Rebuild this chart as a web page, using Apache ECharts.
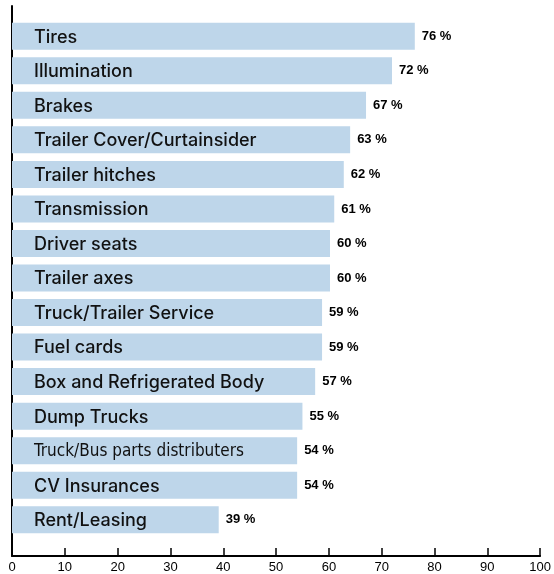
<!DOCTYPE html>
<html>
<head>
<meta charset="utf-8">
<script src="https://cdn.jsdelivr.net/npm/echarts@6/dist/echarts.min.js"></script>
<style>
  html, body { margin: 0; padding: 0; background: #fff; }
  #chart { width: 554px; height: 574px; }
</style>
</head>
<body>
<div id="chart"></div>
<script>
// categories, top to bottom
const categories = [
    'Tires', 'Illumination', 'Brakes', 'Trailer Cover/Curtainsider', 'Trailer hitches',
    'Transmission', 'Driver seats', 'Trailer axes', 'Truck/Trailer Service', 'Fuel cards',
    'Box and Refrigerated Body', 'Dump Trucks', 'Truck/Bus parts distributers', 'CV Insurances', 'Rent/Leasing'
];
// bar lengths as drawn
const barLengths = [76.0, 71.7, 66.8, 63.8, 62.6, 60.8, 60.0, 60.0, 58.5, 58.5, 57.2, 54.8, 53.8, 53.8, 39.0];
// printed percentages
const shareLabels = [76, 72, 67, 63, 62, 61, 60, 60, 59, 59, 57, 55, 54, 54, 39];
const xTicks = [0, 10, 20, 30, 40, 50, 60, 70, 80, 90, 100];

const BAR_COLOR = '#bed6ea';
const FONT = 'Liberation Sans, Arial, sans-serif';
const LABEL_FONT = 'Inter, Roboto, sans-serif';

const chart = echarts.init(document.getElementById('chart'));

const option = {
    animation: false,
    grid: [
        // bars
        { left: 12, right: 12, top: 19, bottom: 37 },
        // axes frame
        { left: 12, right: 12, top: 6, bottom: 18 }
    ],
    xAxis: [
        { gridIndex: 0, type: 'value', min: 0, max: 100, show: false },
        {
            gridIndex: 1, type: 'value', min: xTicks[0], max: xTicks[xTicks.length - 1], interval: 10,
            axisLine: { show: true, lineStyle: { color: '#000', width: 2 } },
            axisTick: { show: true, inside: true, length: 8, lineStyle: { color: '#000', width: 1.5 } },
            axisLabel: { color: '#000', fontSize: 13, fontFamily: FONT, margin: 5 },
            splitLine: { show: false }
        }
    ],
    yAxis: [
        {
            gridIndex: 0, type: 'category', data: categories, inverse: true,
            show: false
        },
        {
            gridIndex: 1, type: 'value', min: 0, max: 1,
            axisLine: { show: true, lineStyle: { color: '#000', width: 2 } },
            axisTick: { show: false },
            axisLabel: { show: false },
            splitLine: { show: false }
        }
    ],
    series: [
        {
            type: 'bar',
            xAxisIndex: 0,
            yAxisIndex: 0,
            data: barLengths,
            barWidth: 27,
            itemStyle: { color: BAR_COLOR },
            label: {
                show: true,
                position: 'insideLeft',
                distance: 22,
                offset: [0, 1],
                color: '#111',
                fontSize: 18,
                fontWeight: 500,
                fontFamily: LABEL_FONT,
                formatter: p => p.name === 'Truck/Bus parts distributers'
                    ? '{c|' + p.name + '}' : p.name,
                rich: {
                    c: {
                        fontSize: 17,
                        fontFamily: 'Liberation Sans Narrow, DejaVu Sans Condensed, sans-serif',
                        color: '#111'
                    }
                }
            },
            z: 2
        },
        {
            // printed percentages at the bar ends
            type: 'bar',
            xAxisIndex: 0,
            yAxisIndex: 0,
            data: barLengths,
            barWidth: 27,
            barGap: '-100%',
            itemStyle: { color: 'transparent' },
            label: {
                show: true,
                position: 'right',
                distance: 7,
                color: '#000',
                fontSize: 13,
                fontWeight: 'bold',
                fontFamily: FONT,
                formatter: p => shareLabels[p.dataIndex] + ' %'
            },
            z: 3
        }
    ]
};

chart.setOption(option);
</script>
</body>
</html>
